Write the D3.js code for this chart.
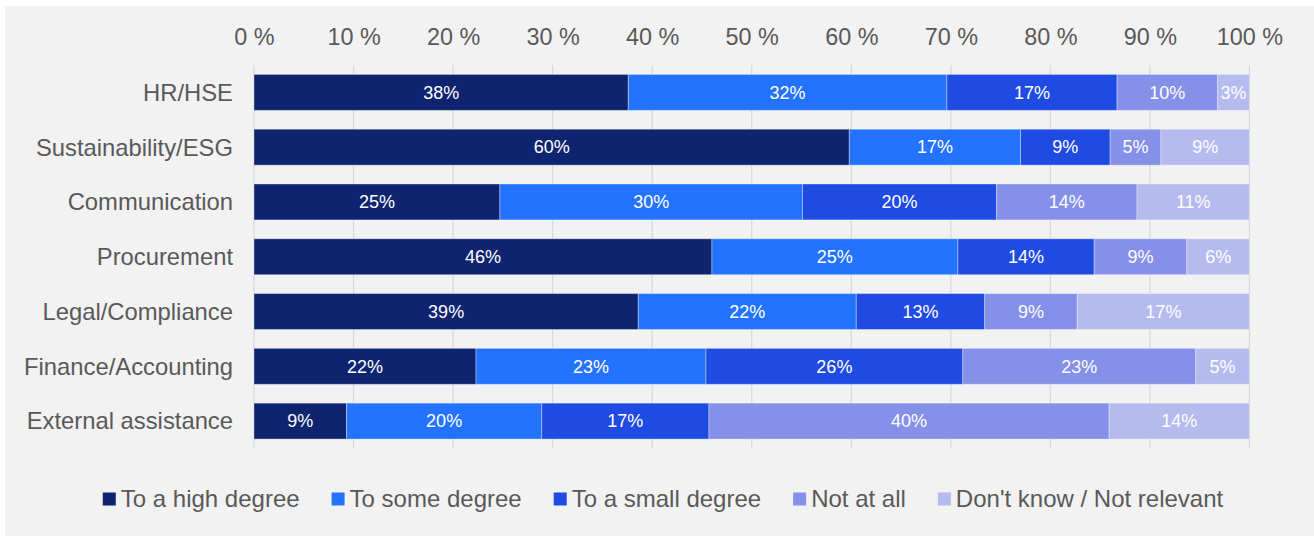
<!DOCTYPE html>
<html>
<head>
<meta charset="utf-8">
<script src="https://cdn.jsdelivr.net/npm/d3@7"></script>
<style>
  html, body { margin: 0; padding: 0; background: #ffffff; }
  svg { display: block; font-family: "Liberation Sans", Arial, sans-serif; }
</style>
</head>
<body>
<svg id="chart" width="1314" height="536"></svg>
<script>
// ---- data ----
const categories = ["HR/HSE", "Sustainability/ESG", "Communication", "Procurement", "Legal/Compliance", "Finance/Accounting", "External assistance"];
const seriesNames = ["To a high degree", "To some degree", "To a small degree", "Not at all", "Don't know / Not relevant"];
const highDegree  = [37.6, 59.8, 24.7, 46.0, 38.6, 22.3, 9.3];
const someDegree  = [32.0, 17.2, 30.4, 24.7, 21.9, 23.1, 19.6];
const smallDegree = [17.1,  9.0, 19.5, 13.7, 12.9, 25.8, 16.8];
const notAtAll    = [10.1,  5.1, 14.1,  9.3,  9.3, 23.4, 40.2];
const dontKnow    = [ 3.2,  8.9, 11.3,  6.3, 17.3,  5.4, 14.1];
const tickValues  = [0, 10, 20, 30, 40, 50, 60, 70, 80, 90, 100];
const colors = ["#0f2470", "#2373ff", "#1f4be3", "#8590e8", "#b5bbef"];

const seriesValues = [highDegree, someDegree, smallDegree, notAtAll, dontKnow];

const svg = d3.select("#chart");
const W = 1314, H = 536;

// panel background
svg.append("rect").attr("x", 5).attr("y", 6).attr("width", W - 5).attr("height", H - 6).attr("fill", "#f2f2f2");

const x = d3.scaleLinear().domain([0, 100]).range([254, 1249.5]);
const y = d3.scaleBand().domain(categories).range([65, 448.5]).paddingInner(0.344).paddingOuter(0.172);

// gridlines
svg.append("g").selectAll("line").data(tickValues).join("line")
  .attr("x1", d => x(d)).attr("x2", d => x(d))
  .attr("y1", 65).attr("y2", 448.5)
  .attr("stroke", "#d9d9d9").attr("stroke-width", 1.3);

// top axis tick labels
const xAxis = d3.axisTop(x).tickValues(tickValues).tickSize(0).tickPadding(0).tickFormat(d => d + " %");
const gx = svg.append("g").attr("transform", "translate(0,45)").call(xAxis);
gx.select(".domain").remove();
gx.selectAll("text").attr("fill", "#595959").attr("font-size", "23.4px").attr("font-family", "Liberation Sans, Arial, sans-serif").attr("dy", 0);

// left category labels
const yAxis = d3.axisLeft(y).tickSize(0).tickPadding(0);
const gy = svg.append("g").attr("transform", "translate(233,0)").call(yAxis);
gy.select(".domain").remove();
gy.selectAll("text").attr("fill", "#595959").attr("font-size", "23.8px").attr("font-family", "Liberation Sans, Arial, sans-serif").attr("dy", "0.35em");

// stacked data
const rows = categories.map((c, i) => {
  const o = { category: c };
  seriesNames.forEach((s, k) => { o[s] = seriesValues[k][i]; });
  return o;
});
const stack = d3.stack().keys(seriesNames)(rows);

const layers = svg.append("g").selectAll("g").data(stack).join("g")
  .attr("fill", (d, k) => colors[k]);

layers.selectAll("rect").data(d => d).join("rect")
  .attr("x", d => x(d[0]))
  .attr("y", d => y(d.data.category))
  .attr("width", d => x(d[1]) - x(d[0]))
  .attr("height", y.bandwidth())
  .attr("stroke", "rgba(255,255,255,0.35)")
  .attr("stroke-width", 1);

// value labels
layers.selectAll("text").data(d => d.map(p => ({ p: p, key: d.key }))).join("text")
  .attr("x", d => (x(d.p[0]) + x(d.p[1])) / 2)
  .attr("y", d => y(d.p.data.category) + y.bandwidth() / 2)
  .attr("dy", "0.35em")
  .attr("text-anchor", "middle")
  .attr("fill", "#ffffff")
  .attr("font-size", "18px")
  .text(d => Math.round(d.p.data[d.key]) + "%");

// legend
const legend = svg.append("g");
const items = legend.selectAll("g").data(seriesNames).join("g");
items.append("rect").attr("width", 13).attr("height", 13).attr("y", 492.5).attr("fill", (d, k) => colors[k]);
items.append("text").attr("x", 18).attr("y", 499).attr("dy", "0.35em")
  .attr("fill", "#595959").attr("font-size", "24px").text(d => d);
const widths = [];
items.each(function(d, i) {
  const w = 18 + d3.select(this).select("text").node().getComputedTextLength();
  widths.push(w);
});
const total = d3.sum(widths) + 32 * (widths.length - 1);
let start = 663 - total / 2;
items.attr("transform", (d, i) => {
  const t = "translate(" + start + ",0)";
  start += widths[i] + 32;
  return t;
});
</script>
</body>
</html>
